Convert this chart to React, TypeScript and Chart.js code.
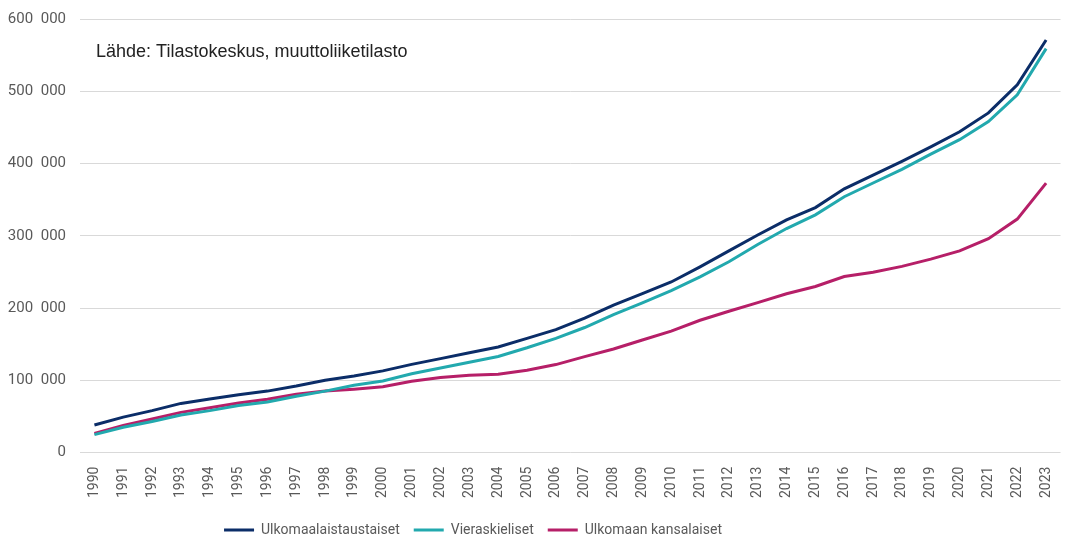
import React, { useEffect, useRef } from "react";
import { Chart, registerables } from "chart.js";

Chart.register(...registerables);

const years: string[] = [
  "1990", "1991", "1992", "1993", "1994", "1995", "1996", "1997", "1998", "1999",
  "2000", "2001", "2002", "2003", "2004", "2005", "2006", "2007", "2008", "2009",
  "2010", "2011", "2012", "2013", "2014", "2015", "2016", "2017", "2018", "2019",
  "2020", "2021", "2022", "2023",
];

const ulkomaalaistaustaiset: number[] = [
  38000, 49000, 58000, 68000, 74000, 80000, 85000, 92000, 100000, 106000,
  113000, 122000, 130000, 138000, 146000, 158000, 170000, 186000, 204000, 220000,
  236000, 257000, 279000, 301000, 322000, 339000, 365000, 384000, 403000, 423000,
  444000, 470000, 509000, 571000,
];

const vieraskieliset: number[] = [
  24800, 35000, 43000, 52000, 58000, 65000, 70000, 78000, 85000, 93000,
  99000, 109000, 117000, 125000, 133000, 145000, 158000, 173000, 191000, 207000,
  224000, 243000, 264000, 288000, 310000, 329000, 354000, 373000, 392000, 413000,
  433000, 458000, 495000, 559000,
];

const ulkomaanKansalaiset: number[] = [
  26300, 37600, 46300, 55600, 62000, 68600, 73800, 80600, 85100, 87700,
  91100, 98600, 103700, 107000, 108300, 113900, 121700, 132700, 143300, 155700,
  168000, 183100, 195500, 207500, 219700, 229800, 243600, 249500, 257600, 267600,
  279000, 296000, 323100, 372800,
];

const seriesNames: string[] = ["Ulkomaalaistaustaiset", "Vieraskieliset", "Ulkomaan kansalaiset"];
const seriesColors: string[] = ["#0b2d68", "#22a9ae", "#b61f68"];
const sourceNote = "Lähde: Tilastokeskus, muuttoliiketilasto";

const FONT = "Roboto, 'Liberation Sans', sans-serif";

export default function App() {
  const ref = useRef<HTMLCanvasElement | null>(null);

  useEffect(() => {
    if (!ref.current) return;
    const notePlugin = {
      id: "note",
      afterLayout(chart: any) {
        const lg = chart.legend;
        if (lg) {
          lg.left = 10;
          lg.right = 936;
          lg.top += 5;
          lg.bottom += 5;
        }
      },
      afterDraw(chart: any) {
        const ctx = chart.ctx;
        const a = chart.chartArea;
        ctx.save();
        ctx.font = "18px 'Liberation Sans', Arial, sans-serif";
        ctx.fillStyle = "#222222";
        ctx.textAlign = "left";
        ctx.textBaseline = "middle";
        ctx.fillText(sourceNote, a.left + 16, a.top + 33);
        ctx.restore();
      },
    };
    const data = [ulkomaalaistaustaiset, vieraskieliset, ulkomaanKansalaiset];
    const chart = new Chart(ref.current, {
      type: "line",
      data: {
        labels: years,
        datasets: data.map((d, i) => ({
          label: seriesNames[i],
          data: d,
          borderColor: seriesColors[i],
          backgroundColor: seriesColors[i],
          borderWidth: 3,
          pointRadius: 0,
          tension: 0,
        })),
      },
      options: {
        animation: false,
        responsive: true,
        maintainAspectRatio: false,
        layout: { padding: { top: 19, right: 6, left: 0, bottom: 0 } },
        plugins: {
          tooltip: { enabled: false },
          legend: {
            position: "bottom",
            labels: {
              boxWidth: 30,
              boxHeight: 3,
              padding: 14,
              color: "#595959",
              font: { family: FONT, size: 14 },
              generateLabels(chart: any) {
                const items = Chart.defaults.plugins.legend.labels.generateLabels(chart);
                items.forEach((it: any) => {
                  it.lineWidth = 0;
                });
                return items;
              },
            },
          },
        },
        scales: {
          x: {
            offset: true,
            grid: { display: false },
            border: { display: false },
            ticks: {
              minRotation: 90,
              maxRotation: 90,
              autoSkip: false,
              color: "#595959",
              padding: 6,
              font: { family: FONT, size: 14 },
            },
          },
          y: {
            min: 0,
            max: 600000,
            afterFit(scale: any) {
              scale.width = 80;
              scale.paddingTop = 0;
              scale.paddingBottom = 0;
            },
            border: { display: false },
            grid: { color: "#d9d9d9", lineWidth: 1, drawTicks: false },
            ticks: {
              stepSize: 100000,
              padding: 14,
              color: "#595959",
              font: { family: FONT, size: 15 },
              callback: (v: any) => {
                const n = Number(v);
                if (n === 0) return "0";
                return String(n / 1000) + "\u2002000";
              },
            },
          },
        },
      },
      plugins: [notePlugin],
    });
    return () => chart.destroy();
  }, []);

  return (
    <div style={{ position: "fixed", left: 0, top: 0, width: 1069, height: 542, background: "#fff" }}>
      <canvas ref={ref} />
    </div>
  );
}
